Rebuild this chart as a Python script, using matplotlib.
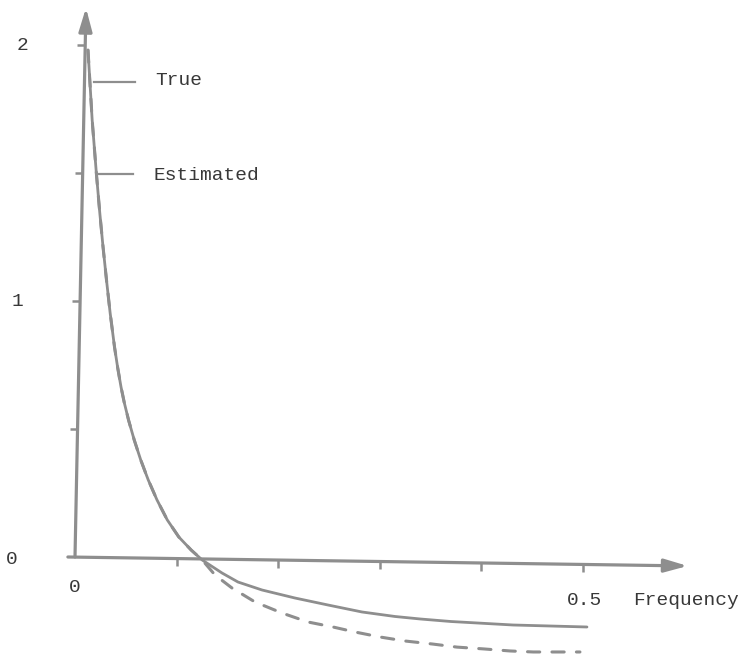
import matplotlib
matplotlib.use("Agg")
import matplotlib.pyplot as plt
import numpy as np

# ---- data (frequency, spectral value) ----
# shared steep part of both spectra (they overlap here)
upper_freq = [0.0128, 0.0169, 0.0210, 0.0244, 0.0276, 0.0310, 0.0346, 0.0389, 0.0419,
              0.0453, 0.0485, 0.0527, 0.0583, 0.0647, 0.0721, 0.0807, 0.0908, 0.1022,
              0.1144, 0.1253]
upper_vals = [1.980, 1.707, 1.500, 1.344, 1.211, 1.082, 0.953, 0.820, 0.742,
              0.664, 0.603, 0.535, 0.457, 0.379, 0.301, 0.223, 0.145, 0.078,
              0.027, -0.012]

true_low_freq = [0.1447, 0.1604, 0.1841, 0.2165, 0.2490, 0.2825, 0.3150, 0.3400,
                 0.3700, 0.4311, 0.5039]
true_low_vals = [-0.0625, -0.0977, -0.1289, -0.1602, -0.1875, -0.2148, -0.2324, -0.2422,
                 -0.2520, -0.2656, -0.2734]

est_low_freq = [0.1378, 0.1545, 0.1772, 0.2037, 0.2293, 0.2539, 0.2756, 0.3002, 0.3248,
                0.352, 0.376, 0.402, 0.428, 0.451, 0.474, 0.497]
est_low_vals = [-0.0703, -0.1211, -0.1758, -0.2188, -0.2539, -0.2734, -0.2930, -0.3125,
                -0.3281, -0.340, -0.352, -0.359, -0.367, -0.371, -0.371, -0.371]

x_ticks = [0.1, 0.2, 0.3, 0.4, 0.5]
y_ticks = [0.5, 1.0, 1.5, 2.0]
series_names = ["True", "Estimated"]
x_label = "Frequency"

# ---- style ----
LINE = "#8e8e8e"
TEXT = "#383838"
FONT = ["Liberation Mono", "DejaVu Sans Mono"]

fig = plt.figure(figsize=(7.46, 6.55), dpi=100)
ax = fig.add_axes([0, 0, 1, 1])
ax.set_xlim(-75 / 1016, 671 / 1016)
ax.set_ylim(-98 / 256, 557 / 256)
ax.axis("off")

# hand-drawn (slightly tilted) axes with arrow heads
y_tip = (0.0108, 2.145)
x_tip = (0.603, -0.035)
arrow_kw = dict(arrowstyle="-|>,head_length=1.4,head_width=0.4", lw=2.3,
                color=LINE, shrinkA=0, shrinkB=0)
ax.annotate("", xy=y_tip, xytext=(0.0, 0.0), arrowprops=arrow_kw)
ax.annotate("", xy=x_tip, xytext=(-0.007, 0.0), arrowprops=arrow_kw)

# tick marks
yt = np.array(y_ticks)
ax.plot(y_tip[0] * yt / y_tip[1], yt, linestyle="none", marker=0,
        markersize=6, mew=1.8, color=LINE)
xt = np.array(x_ticks)
ax.plot(xt, x_tip[1] * xt / x_tip[0], linestyle="none", marker=3,
        markersize=6, mew=1.8, color=LINE)

# curves
ax.plot(upper_freq + true_low_freq, upper_vals + true_low_vals,
        color=LINE, lw=2.0, solid_capstyle="round", solid_joinstyle="round")
ax.plot(upper_freq + est_low_freq, upper_vals + est_low_vals,
        color=LINE, lw=2.2, linestyle=(0, (4.0, 4.0)),
        dash_capstyle="round", dash_joinstyle="round")

# pointers and labels
ax.plot([0.0187, 0.059], [1.855, 1.855], color=LINE, lw=1.6)
ax.plot([0.0217, 0.057], [1.496, 1.496], color=LINE, lw=1.6)
tk = dict(color=TEXT, fontsize=14, family=FONT)
ax.text(0.0787, 1.86, series_names[0], ha="left", va="center", **tk)
ax.text(0.0768, 1.49, series_names[1], ha="left", va="center", **tk)

ax.text(-0.052, 2.0, "2", ha="center", va="center", **tk)
ax.text(-0.057, 1.0, "1", ha="center", va="center", **tk)
ax.text(-0.062, -0.01, "0", ha="center", va="center", **tk)
ax.text(0.0, -0.121, "0", ha="center", va="center", **tk)
ax.text(0.501, -0.168, "0.5", ha="center", va="center", **tk)
ax.text(0.549, -0.168, x_label, ha="left", va="center", **tk)

fig.savefig("out.png", dpi=100)
